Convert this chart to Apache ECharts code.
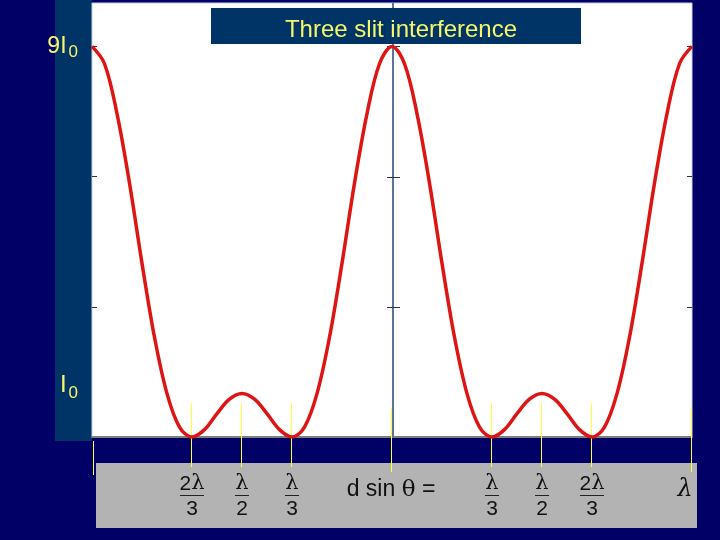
<!DOCTYPE html>
<html><head><meta charset="utf-8">
<script src="https://cdn.jsdelivr.net/npm/echarts@6/dist/echarts.min.js"></script>
<style>html,body{margin:0;padding:0;background:#000066;}#c{width:720px;height:540px;}</style>
</head><body><div id="c"></div>
<script>
// ---- data ----
const titleText = 'Three slit interference';
// path difference d sin(theta), in units of lambda
const pathDiff = [-1, -0.9583, -0.9167, -0.875, -0.8333, -0.7917, -0.75, -0.7083, -0.6667, -0.625, -0.5833, -0.5417,
  -0.5, -0.4583, -0.4167, -0.375, -0.3333, -0.2917, -0.25, -0.2083, -0.1667, -0.125, -0.0833, -0.0417,
  0, 0.0417, 0.0833, 0.125, 0.1667, 0.2083, 0.25, 0.2917, 0.3333, 0.375, 0.4167, 0.4583,
  0.5, 0.5417, 0.5833, 0.625, 0.6667, 0.7083, 0.75, 0.7917, 0.8333, 0.875, 0.9167, 0.9583, 1];
// intensity, in units of I0
const intensity = [9, 8.6, 7.45, 5.85, 4, 2.3, 1, 0.23, 0, 0.17, 0.54, 0.87,
  1, 0.87, 0.54, 0.17, 0, 0.23, 1, 2.3, 4, 5.85, 7.45, 8.6,
  9, 8.6, 7.45, 5.85, 4, 2.3, 1, 0.23, 0, 0.17, 0.54, 0.87,
  1, 0.87, 0.54, 0.17, 0, 0.23, 1, 2.3, 4, 5.85, 7.45, 8.6, 9];
const intensityTicks = [3, 6, 9];
const intensityLabelValues = [1, 9];
const guideMarks = [-1, -0.6667, -0.5, -0.3333, 0, 0.3333, 0.5, 0.6667, 1];
const fractionPos = [-0.6667, -0.5, -0.3333, 0.3333, 0.5, 0.6667];
const fractionNum = ['2λ', 'λ', 'λ', 'λ', 'λ', '2λ'];
const fractionDen = ['3', '2', '3', '3', '2', '3'];
const captionPos = [0, 1];
const captionText = ['d sin θ =', 'λ'];

// ---- chart ----
const YEL = '#f6f66a';
const chart = echarts.init(document.getElementById('c'), null, {renderer: 'canvas'});

function numRich(s) {
  return s.replace(/(\d*)λ/, (m, d) => (d ? '{d|' + d + '}' : '') + '{l|λ}');
}

const option = {
  backgroundColor: '#000066',
  animation: false,
  title: {
    text: titleText, left: 396, top: 13, textAlign: 'center',
    textStyle: {color: YEL, fontSize: 24, fontWeight: 'normal', fontFamily: 'Liberation Sans'}
  },
  graphic: [
    {type: 'rect', z: -10, shape: {x: 55, y: 0, width: 37, height: 441}, style: {fill: '#003366'}},
    {type: 'rect', z: -10, shape: {x: 96, y: 463, width: 601, height: 65}, style: {fill: '#b3b3b3'}},
    {type: 'rect', z: 5, shape: {x: 211, y: 8, width: 370, height: 36}, style: {fill: '#003366'}}
  ],
  grid: {left: 92, right: 28, top: 3, bottom: 103, show: true, backgroundColor: '#ffffff',
         borderColor: '#c8d0e0', borderWidth: 1, containLabel: false},
  xAxis: {
    type: 'value', min: -1, max: 1,
    axisLine: {show: true, onZero: false, lineStyle: {color: '#7f7f7f', width: 2}},
    axisTick: {show: false}, axisLabel: {show: false}, splitLine: {show: false}
  },
  yAxis: [
    {
      type: 'value', min: 0, max: 10, position: 'left',
      axisLine: {show: false, onZero: false},
      axisTick: {show: true, inside: true, length: 5, customValues: intensityTicks, lineStyle: {color: '#333'}},
      splitLine: {show: false},
      axisLabel: {
        show: true, margin: 14, customValues: intensityLabelValues,
        formatter: v => v === 9 ? '{a|9I}{s|0}' : '{b|I}{t|0}',
        rich: {
          a: {color: YEL, fontSize: 23, fontFamily: 'Liberation Sans'},
          s: {color: YEL, fontSize: 17, fontFamily: 'Liberation Sans', padding: [12, 0, 0, 2]},
          b: {color: YEL, fontSize: 24, fontFamily: 'Liberation Sans', padding: [0, 0, 16, 0]},
          t: {color: YEL, fontSize: 17, fontFamily: 'Liberation Sans', padding: [0, 0, 0, 2]}
        }
      }
    },
    {
      type: 'value', min: 0, max: 10, position: 'right',
      axisLine: {show: false, onZero: false},
      axisTick: {show: true, inside: true, length: 5, customValues: intensityTicks, lineStyle: {color: '#333'}},
      splitLine: {show: false}, axisLabel: {show: false}
    }
  ],
  series: [
    { // yellow guide marks
      type: 'custom', silent: true, z: 1, clip: false,
      data: guideMarks.map(v => [v, 0]),
      encode: {x: 0, y: 1},
      renderItem: (params, api) => {
        const v = api.value(0);
        const p = api.coord([v, 0]);
        let x = Math.round(p[0]) + 0.5, y1, y2;
        if (v === -1) { x += 1; y1 = p[1] + 4; y2 = p[1] + 38; }
        else if (v === 1) { x -= 1; y1 = p[1] - 29; y2 = p[1] + 35; }
        else if (v === 0) { x -= 1; y1 = p[1] - 29; y2 = p[1] + 35; }
        else { x -= 1; y1 = p[1] - 34; y2 = p[1] + 30; }
        return {type: 'line', shape: {x1: x, y1: y1, x2: x, y2: y2}, style: {stroke: '#ffff40', lineWidth: 1}};
      }
    },
    { // central intensity axis with ticks
      type: 'custom', silent: true, z: 2, clip: false,
      data: [[0, 0]],
      encode: {x: 0, y: 1},
      renderItem: (params, api) => {
        const p0 = api.coord([0, 0]);
        const p1 = api.coord([0, 10]);
        const children = [{type: 'line', shape: {x1: p0[0] + 1, y1: p0[1], x2: p1[0] + 1, y2: p1[1]},
                           style: {stroke: '#5b7599', lineWidth: 2}}];
        intensityTicks.forEach(t => {
          const q = api.coord([0, t]);
          children.push({type: 'line', shape: {x1: q[0] - 5, y1: Math.round(q[1]) + 0.5, x2: q[0] + 8, y2: Math.round(q[1]) + 0.5},
                         style: {stroke: '#333', lineWidth: 1}});
        });
        return {type: 'group', children};
      }
    },
    { // fraction labels under the axis
      type: 'custom', silent: true, z: 3, clip: false,
      data: fractionPos.map(v => [v, 0]),
      encode: {x: 0, y: 1},
      renderItem: (params, api) => {
        const i = params.dataIndex;
        const p = api.coord([api.value(0), 0]);
        const x = p[0], y = p[1];
        const w = fractionNum[i].length > 1 ? 24 : 14;
        return {type: 'group', children: [
          {type: 'text', style: {text: numRich(fractionNum[i]), x: x, y: y + 47, align: 'center', verticalAlign: 'middle',
            rich: {d: {fontSize: 21, fontFamily: 'Liberation Sans', fill: '#111'},
                   l: {fontSize: 21, fontFamily: 'DejaVu Serif', fill: '#111'}}}},
          {type: 'line', shape: {x1: x - w / 2, y1: y + 58.5, x2: x + w / 2, y2: y + 58.5}, style: {stroke: '#222', lineWidth: 1}},
          {type: 'text', style: {text: fractionDen[i], x: x, y: y + 72, align: 'center', verticalAlign: 'middle',
            fontSize: 21, fontFamily: 'Liberation Sans', fill: '#111'}}
        ]};
      }
    },
    { // caption "d sin θ =" and the closing λ
      type: 'custom', silent: true, z: 3, clip: false,
      data: captionPos.map(v => [v, 0]),
      encode: {x: 0, y: 1},
      renderItem: (params, api) => {
        const i = params.dataIndex;
        const p = api.coord([api.value(0), 0]);
        if (i === 0) {
          return {type: 'text', style: {text: '{s|d sin }{t|θ}{s| =}', x: p[0] - 1, y: p[1] + 53, align: 'center', verticalAlign: 'middle',
            rich: {s: {fontSize: 23, fontFamily: 'Liberation Sans', fill: '#111'},
                   t: {fontSize: 23, fontFamily: 'DejaVu Serif', fill: '#111'}}}};
        }
        return {type: 'text', style: {text: captionText[i], x: p[0] - 7, y: p[1] + 53, align: 'center', verticalAlign: 'middle',
          fontSize: 24, fontStyle: 'italic', fontFamily: 'DejaVu Serif', fill: '#111'}};
      }
    },
    {
      name: 'Intensity', type: 'line', z: 4, smooth: 0.35, showSymbol: false, symbol: 'none',
      data: pathDiff.map((x, i) => [x, intensity[i]]),
      lineStyle: {color: '#dd1515', width: 3.5}
    }
  ]
};
chart.setOption(option);
</script>
</body></html>
